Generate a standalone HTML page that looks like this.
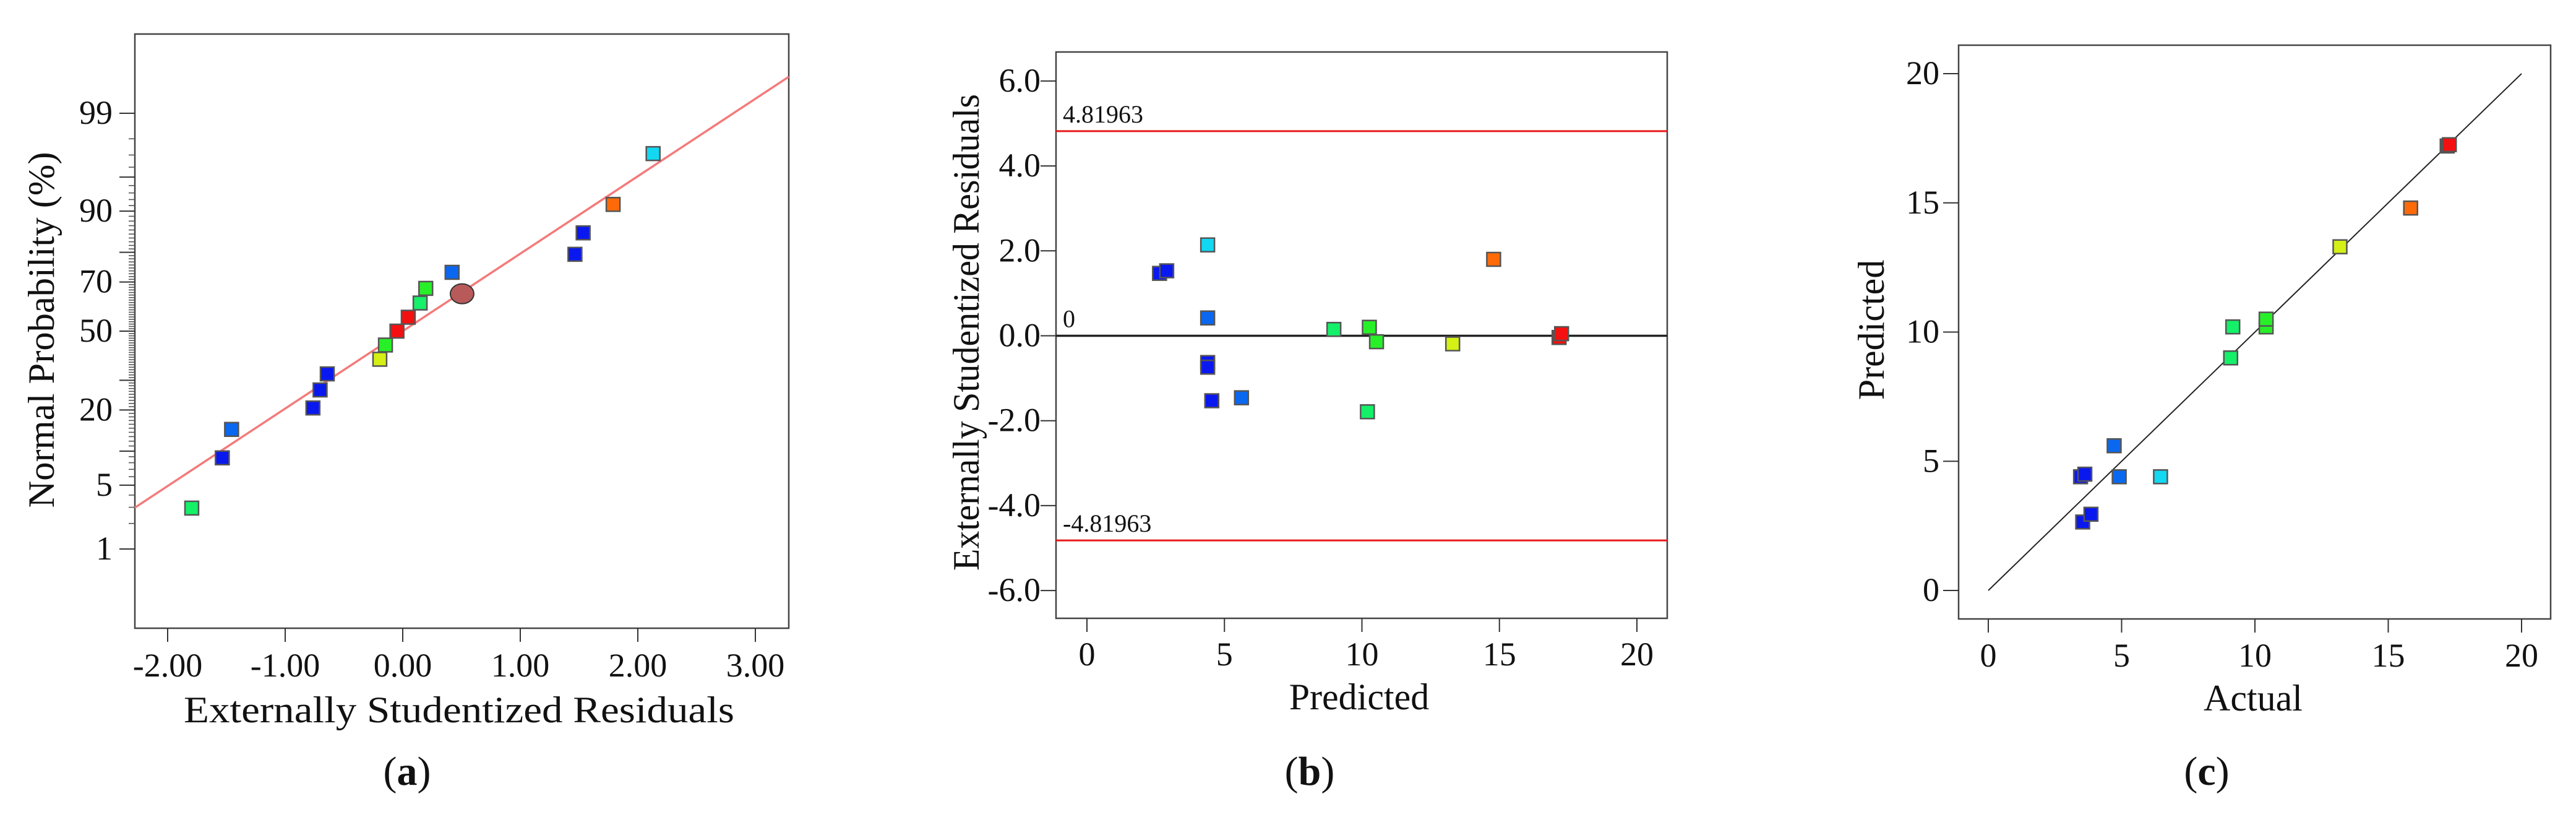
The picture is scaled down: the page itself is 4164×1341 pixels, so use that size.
<!DOCTYPE html>
<html><head><meta charset="utf-8"><style>
html,body{margin:0;padding:0;background:#fff;}
svg{display:block;}
text{font-family:"Liberation Serif","DejaVu Serif",serif;}
</style></head><body>
<svg id="fig" width="4164" height="1341" viewBox="0 0 4164 1341" xmlns="http://www.w3.org/2000/svg" font-family="'Liberation Serif', 'DejaVu Serif', serif">
<g id="pa"></g>
<g id="pb"></g>
<g id="pc"></g>
</svg>
<script>
// ---------- data ----------
const colorMap = {blue:"#0a18f0", lblue:"#0a68f0", cyan:"#12d8f2", green:"#14f068", green2:"#28f028", yellow:"#d4f014", orange:"#ff6a08", red:"#f41010"};
// panel a
const aResiduals = [-1.795,-1.535,-1.456,-0.764,-0.703,-0.642,-0.195,-0.147,-0.049,0.047,0.148,0.196,0.42,1.465,1.535,1.79,2.13];
const aProb = [2.94,8.8,14.7,20.6,26.5,32.4,38.2,44.1,50,55.9,61.8,67.6,73.5,79.4,85.3,91.2,97.1];
const aColors = ["green","blue","lblue","blue","blue","blue","yellow","green2","red","red","green","green2","lblue","blue","blue","orange","cyan"];
const aCircle = [0.505, 65.5];
const aLineSlope = 0.827;
const aXTicks = [-2,-1,0,1,2,3];
const aXTickLabels = ["-2.00","-1.00","0.00","1.00","2.00","3.00"];
const aYTicks = [1,5,20,50,70,90,99];
const aYTickLabels = ["1","5","20","50","70","90","99"];
// panel b
const bPred = [2.64,2.9,4.39,4.39,4.39,4.39,4.54,5.62,8.98,10.27,10.53,10.2,13.3,14.79,17.17,17.26];
const bResid = [1.47,1.53,2.14,0.42,-0.63,-0.74,-1.53,-1.46,0.15,0.2,-0.14,-1.79,-0.19,1.8,-0.04,0.05];
const bColors = ["blue","blue","cyan","lblue","blue","blue","blue","lblue","green","green2","green2","green","yellow","orange","red","red"];
const bLimits = [4.81963,-4.81963];
const bLimitLabels = ["4.81963","-4.81963"];
const bXTicks = [0,5,10,15,20];
const bXTickLabels = ["0","5","10","15","20"];
const bYTicks = [6,4,2,0,-2,-4,-6];
const bYTickLabels = ["6.0","4.0","2.0","0.0","-2.0","-4.0","-6.0"];
// panel c
const cActual = [3.46,3.62,3.54,3.85,4.72,4.91,6.46,9.09,9.17,10.42,10.42,13.19,15.84,17.21,17.29];
const cPredicted = [4.4,4.5,2.65,2.95,5.6,4.4,4.4,9.0,10.2,10.2,10.5,13.3,14.8,17.2,17.25];
const cColors = ["blue","blue","blue","blue","lblue","lblue","cyan","green","green","green2","green2","yellow","orange","red","red"];
const cXTicks = [0,5,10,15,20];
const cXTickLabels = ["0","5","10","15","20"];
const cYTicks = [0,5,10,15,20];
const cYTickLabels = ["0","5","10","15","20"];

// ---------- helpers ----------
const NS="http://www.w3.org/2000/svg";
const SERIF="'Liberation Serif', 'DejaVu Serif', serif";
function mk(parent,tag,attrs,text){const e=document.createElementNS(NS,tag);for(const k in attrs)e.setAttribute(k,attrs[k]);if(text!==undefined)e.textContent=text;parent.appendChild(e);return e;}
function invNorm(p){ // Acklam
  const a=[-39.6968302866538,220.946098424521,-275.928510446969,138.357751867269,-30.6647980661472,2.50662827745924];
  const b=[-54.4760987982241,161.585836858041,-155.698979859887,66.8013118877197,-13.2806815528857];
  const c=[-0.00778489400243029,-0.322396458041136,-2.40075827716184,-2.54973253934373,4.37466414146497,2.93816398269878];
  const d=[0.00778469570904146,0.32246712907004,2.445134137143,3.75440866190742];
  const pl=0.02425;let q,r;
  if(p<pl){q=Math.sqrt(-2*Math.log(p));return (((((c[0]*q+c[1])*q+c[2])*q+c[3])*q+c[4])*q+c[5])/((((d[0]*q+d[1])*q+d[2])*q+d[3])*q+1);}
  if(p>1-pl){q=Math.sqrt(-2*Math.log(1-p));return -(((((c[0]*q+c[1])*q+c[2])*q+c[3])*q+c[4])*q+c[5])/((((d[0]*q+d[1])*q+d[2])*q+d[3])*q+1);}
  q=p-0.5;r=q*q;return (((((a[0]*r+a[1])*r+a[2])*r+a[3])*r+a[4])*r+a[5])*q/(((((b[0]*r+b[1])*r+b[2])*r+b[3])*r+b[4])*r+1);
}
function square(g,x,y,col){const s=mk(g,'rect',{x:x-11,y:y-11,width:22,height:22,fill:colorMap[col],stroke:'#555','stroke-width':2.5});

}
function box(g,l,t,r,b){const e=mk(g,'rect',{x:l,y:t,width:r-l,height:b-t,fill:'none',stroke:'#444','stroke-width':2.5});

}
function txt(g,x,y,s,size,anchor,name,extra){const e=mk(g,'text',Object.assign({x:x,y:y,'font-size':size,'text-anchor':anchor||'middle',fill:'#111','font-family':SERIF},extra||{}),s);
e.style.fontFamily='"Liberation Serif","DejaVu Serif",serif';

return e;}

// ---------- panel a ----------
(function(){
const g=document.getElementById('pa');const L=218,T=55,R=1275,B=1015;
const sx=v=>651+v*190; const sz=z=>535-z*151.3; const sp=p=>sz(invNorm(p/100));
box(g,L,T,R,B);
aXTicks.forEach((v,i)=>{mk(g,'line',{x1:sx(v),y1:B,x2:sx(v),y2:B+22,stroke:'#333','stroke-width':2});txt(g,sx(v),1093,aXTickLabels[i],54,'middle','x-tick-label');});
for(let p=2;p<=98;p++){mk(g,'line',{x1:L-10,y1:sp(p),x2:L,y2:sp(p),stroke:'#555','stroke-width':1.6});}
[1,5,10,20,30,50,70,80,90,95,99].forEach(p=>mk(g,'line',{x1:L-25,y1:sp(p),x2:L,y2:sp(p),stroke:'#333','stroke-width':2}));
aYTicks.forEach((p,i)=>txt(g,182,sp(p)+17,aYTickLabels[i],54,'end','y-tick-label'));
const x0=(L-651)/190,x1=(R-651)/190;
const ln=mk(g,'line',{x1:L,y1:sz(aLineSlope*x0),x2:R,y2:sz(aLineSlope*x1),stroke:'#f47a7a','stroke-width':3.5});


aResiduals.forEach((v,i)=>square(g,sx(v),sp(aProb[i]),aColors[i]));
const c=mk(g,'ellipse',{cx:sx(aCircle[0]),cy:sp(aCircle[1]),rx:19,ry:16,fill:'#b85a5a',stroke:'#333','stroke-width':2});


txt(g,742,1167,'Externally Studentized Residuals',60,'middle','x-axis-title',{textLength:890,lengthAdjust:'spacingAndGlyphs'});
txt(g,0,0,'Normal Probability (%)',60,'middle','y-axis-title',{transform:'translate(87,533) rotate(-90)',textLength:575,lengthAdjust:'spacingAndGlyphs'});
const cap=txt(g,658,1268,'',66,'middle','caption-a');cap.innerHTML='(<tspan font-weight="bold">a</tspan>)';
})();

// ---------- panel b ----------
(function(){
const g=document.getElementById('pb');const L=1707,T=84,R=2695,B=999;
const sx=v=>1757+v*44.45; const sy=v=>542.5-v*68.6;
box(g,L,T,R,B);
bXTicks.forEach((v,i)=>{mk(g,'line',{x1:sx(v),y1:B,x2:sx(v),y2:B+22,stroke:'#333','stroke-width':2});txt(g,sx(v),1075,bXTickLabels[i],54,'middle','x-tick-label');});
bYTicks.forEach((v,i)=>{mk(g,'line',{x1:L-25,y1:sy(v),x2:L,y2:sy(v),stroke:'#333','stroke-width':2});txt(g,1682,sy(v)+17,bYTickLabels[i],54,'end','y-tick-label');});
bLimits.forEach((v,i)=>{const l=mk(g,'line',{x1:L,y1:sy(v),x2:R,y2:sy(v),stroke:'#e81818','stroke-width':3});


txt(g,1718,sy(v)-14,bLimitLabels[i],40,'start','limit-label');});
const z=mk(g,'line',{x1:L,y1:sy(0),x2:R,y2:sy(0),stroke:'#222','stroke-width':3.5});


txt(g,1718,sy(0)-14,'0',40,'start','zero-label');
bPred.forEach((v,i)=>square(g,sx(v),sy(bResid[i]),bColors[i]));
txt(g,2197,1146,'Predicted',60,'middle','x-axis-title');
txt(g,0,0,'Externally Studentized Residuals',60,'middle','y-axis-title',{transform:'translate(1582,537) rotate(-90)',textLength:770,lengthAdjust:'spacingAndGlyphs'});
const cap=txt(g,2117,1268,'',66,'middle','caption-b');cap.innerHTML='(<tspan font-weight="bold">b</tspan>)';
})();

// ---------- panel c ----------
(function(){
const g=document.getElementById('pc');const L=3166,T=73,R=4123,B=1000;
const sx=v=>3214+v*43.1; const sy=v=>954-v*41.75;
box(g,L,T,R,B);
cXTicks.forEach((v,i)=>{mk(g,'line',{x1:sx(v),y1:B,x2:sx(v),y2:B+22,stroke:'#333','stroke-width':2});txt(g,sx(v),1077,cXTickLabels[i],54,'middle','x-tick-label');});
cYTicks.forEach((v,i)=>{mk(g,'line',{x1:L-25,y1:sy(v),x2:L,y2:sy(v),stroke:'#333','stroke-width':2});txt(g,3135,sy(v)+17,cYTickLabels[i],54,'end','y-tick-label');});
const d=mk(g,'line',{x1:sx(0),y1:sy(0),x2:sx(20),y2:sy(20),stroke:'#222','stroke-width':2});


cActual.forEach((v,i)=>square(g,sx(v),sy(cPredicted[i]),cColors[i]));
txt(g,3642,1148,'Actual',60,'middle','x-axis-title');
txt(g,0,0,'Predicted',60,'middle','y-axis-title',{transform:'translate(3045,533) rotate(-90)'});
const cap=txt(g,3567,1268,'',66,'middle','caption-c');cap.innerHTML='(<tspan font-weight="bold">c</tspan>)';
})();
</script>
</body></html>
